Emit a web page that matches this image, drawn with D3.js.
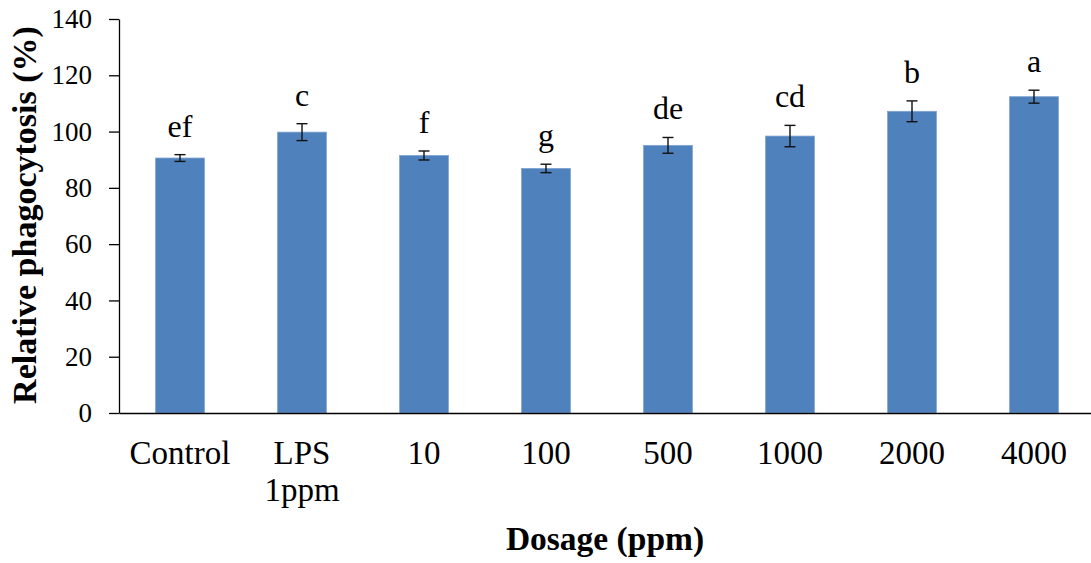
<!DOCTYPE html>
<html>
<head>
<meta charset="utf-8">
<script src="https://cdn.jsdelivr.net/npm/d3@7"></script>
<style>
  html, body { margin: 0; padding: 0; background: #fff; }
  svg { display: block; }
  text { font-family: "Liberation Serif", "Times New Roman", serif; fill: #000; }
</style>
</head>
<body>
<svg id="chart" width="1091" height="563"></svg>
<script>
// Relative phagocytosis by treatment dosage
const categories = ["Control", "LPS 1ppm", "10", "100", "500", "1000", "2000", "4000"];
const means      = [90.6, 99.8, 91.5, 86.9, 95.1, 98.4, 107.2, 112.4];
const errors     = [1.2, 3.0, 1.6, 1.5, 2.8, 3.8, 3.7, 2.3];
const letters    = ["ef", "c", "f", "g", "de", "cd", "b", "a"];
const yTicks     = [0, 20, 40, 60, 80, 100, 120, 140];

const svg = d3.select("#chart");
const plotLeft = 119, plotRight = 1095, plotTop = 19, plotBottom = 413;

const x = d3.scaleBand()
  .domain(categories)
  .range([plotLeft, plotRight])
  .paddingInner(0.6)
  .paddingOuter(0.3);

const y = d3.scaleLinear()
  .domain([0, 140])
  .range([plotBottom, plotTop]);

// Bars
svg.append("g").selectAll("rect")
  .data(categories)
  .join("rect")
  .attr("x", d => x(d))
  .attr("y", (d, i) => y(means[i]))
  .attr("width", x.bandwidth())
  .attr("height", (d, i) => y(0) - y(means[i]))
  .attr("fill", "#4F81BD")
  .attr("stroke", "#7FA3CF")
  .attr("stroke-width", 0.8);

// Error bars
const eb = svg.append("g").attr("stroke", "#111").attr("stroke-width", 1.4);
categories.forEach((c, i) => {
  const cx = x(c) + x.bandwidth() / 2;
  const y1 = y(means[i] + errors[i]), y2 = y(means[i] - errors[i]);
  eb.append("line").attr("x1", cx).attr("x2", cx).attr("y1", y1).attr("y2", y2);
  eb.append("line").attr("x1", cx - 5.5).attr("x2", cx + 5.5).attr("y1", y1).attr("y2", y1);
  eb.append("line").attr("x1", cx - 5.5).attr("x2", cx + 5.5).attr("y1", y2).attr("y2", y2);
});

// Significance letters
svg.append("g").selectAll("text")
  .data(categories)
  .join("text")
  .attr("x", d => x(d) + x.bandwidth() / 2)
  .attr("y", (d, i) => y(means[i] + errors[i]) - 18)
  .attr("text-anchor", "middle")
  .attr("font-size", 32)
  .text((d, i) => letters[i]);

// Y axis
const yAxis = svg.append("g")
  .attr("transform", `translate(${plotLeft},0)`)
  .call(d3.axisLeft(y).tickValues(yTicks).tickSize(10).tickSizeOuter(0).tickPadding(17));
yAxis.selectAll("text").attr("font-size", 27).attr("fill", "#000");
yAxis.selectAll("line, path").attr("stroke", "#000").attr("stroke-width", 1.3);

// X axis
const xAxis = svg.append("g")
  .attr("transform", `translate(0,${plotBottom})`)
  .call(d3.axisBottom(x).tickSize(0).tickSizeOuter(0).tickFormat(""));
xAxis.select("path").attr("stroke", "#000").attr("stroke-width", 1.3);

// Category labels (multi-word names wrap onto a second line)
const cat = svg.append("g").selectAll("text")
  .data(categories)
  .join("text")
  .attr("x", d => x(d) + x.bandwidth() / 2)
  .attr("y", plotBottom + 51)
  .attr("text-anchor", "middle")
  .attr("font-size", 33);
cat.each(function(d) {
  const t = d3.select(this);
  d.split(" ").forEach((w, k) => {
    t.append("tspan")
      .attr("x", x(d) + x.bandwidth() / 2)
      .attr("dy", k === 0 ? 0 : 37)
      .text(w);
  });
});

// Axis titles
svg.append("text")
  .attr("x", 605)
  .attr("y", 550)
  .attr("text-anchor", "middle")
  .attr("font-size", 33.5)
  .attr("font-weight", "bold")
  .text("Dosage (ppm)");

svg.append("text")
  .attr("transform", "translate(36,215) rotate(-90)")
  .attr("text-anchor", "middle")
  .attr("font-size", 34)
  .attr("font-weight", "bold")
  .text("Relative phagocytosis (%)");
</script>
</body>
</html>
